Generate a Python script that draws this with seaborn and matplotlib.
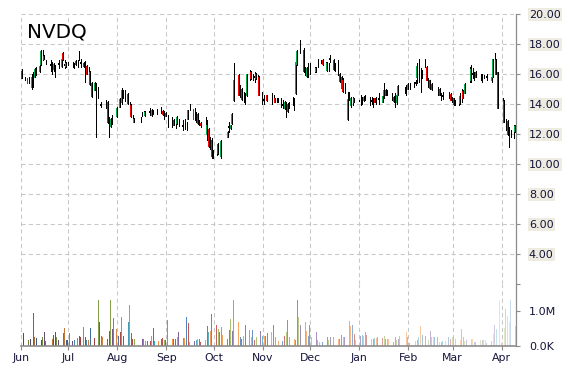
import numpy as np
import pandas as pd
import matplotlib
matplotlib.use("Agg")
import matplotlib.pyplot as plt
import matplotlib.dates as mdates
from matplotlib.colors import to_rgb
import seaborn as sns

sns.set_theme(style="white")
plt.rcParams["font.family"] = ["DejaVu Sans"]

title = "NVDQ"

candle_dates = [
    "6/1", "6/3", "6/5", "6/7", "6/8", "6/9", "6/10", "6/12", "6/13", "6/14",
    "6/15", "6/16", "6/19", "6/20", "6/21", "6/22", "6/24", "6/26", "6/27", "6/28",
    "6/29", "6/30", "7/3", "7/4", "7/5", "7/6", "7/7", "7/8", "7/10", "7/11",
    "7/12", "7/13", "7/14", "7/15", "7/17", "7/18", "7/19", "7/21", "7/24", "7/25",
    "7/26", "7/27", "7/28", "7/31", "8/2", "8/3", "8/4", "8/5", "8/7", "8/8",
    "8/9", "8/10", "8/11", "8/15", "8/16", "8/17", "8/18", "8/21", "8/22", "8/23",
    "8/25", "8/28", "8/29", "8/30", "8/31", "9/1", "9/4", "9/5", "9/6", "9/7",
    "9/8", "9/11", "9/12", "9/13", "9/14", "9/15", "9/18", "9/19", "9/20", "9/21",
    "9/22", "9/25", "9/26", "9/27", "9/28", "9/29", "9/30", "10/2", "10/3", "10/5",
    "10/9", "10/10", "10/11", "10/12", "10/13", "10/16", "10/17", "10/18", "10/19", "10/20",
    "10/21", "10/23", "10/24", "10/25", "10/26", "10/27", "10/28", "10/29", "10/31", "11/1",
    "11/3", "11/6", "11/7", "11/8", "11/9", "11/10", "11/12", "11/13", "11/14", "11/15",
    "11/16", "11/17", "11/19", "11/20", "11/21", "11/22", "11/24", "11/26", "11/27", "11/28",
    "11/29", "11/30", "12/3", "12/4", "12/5", "12/7", "12/8", "12/10", "12/11", "12/12",
    "12/13", "12/15", "12/16", "12/18", "12/19", "12/20", "12/21", "12/22", "12/24", "12/25",
    "12/26", "12/27", "12/28", "1/1", "1/2", "1/3", "1/4", "1/7", "1/8", "1/9",
    "1/10", "1/11", "1/13", "1/15", "1/16", "1/17", "1/18", "1/21", "1/22", "1/23",
    "1/24", "1/25", "1/29", "1/30", "1/31", "2/1", "2/4", "2/5", "2/6", "2/7",
    "2/8", "2/9", "2/11", "2/12", "2/13", "2/14", "2/15", "2/19", "2/20", "2/21",
    "2/22", "2/26", "2/27", "2/28", "3/1", "3/2", "3/4", "3/5", "3/6", "3/7",
    "3/8", "3/11", "3/12", "3/13", "3/14", "3/15", "3/18", "3/19", "3/20", "3/22",
    "3/25", "3/26", "3/27", "3/28", "3/29", "4/1", "4/2", "4/3", "4/4", "4/5",
    "4/6", "4/8", "4/9",
]

opens = [
    16.2, 15.7, 15.7, 15.1, 15.6, 15.8, 16.2, 16.2, 16.6, 17.4,
    17.2, 16.8, 16.6, 16.45, 16.3, 16.25, 16.65, 16.5, 17.4, 16.6,
    16.5, 16.7, 16.6, 16.55, 16.85, 16.7, 17.1, 16.75, 16.7, 16.4,
    16.5, 16.1, 16.1, 15.4, 14.9, 14.9, 14.7, 13.95, 13.95, 14.1,
    12.6, 12.5, 12.95, 13.2, 13.8, 14.1, 14.6, 14.55, 14.65, 13.9,
    13.9, 13.0, 12.8, 12.95, 13.3, 13.38, 13.25, 13.45, 13.25, 13.45,
    13.5, 13.55, 13.5, 13.35, 13.4, 12.9, 12.8, 12.9, 12.7, 12.7,
    12.8, 12.55, 12.6, 12.5, 13.0, 13.7, 13.65, 13.1, 13.3, 12.75,
    12.7, 12.6, 12.0, 12.3, 11.4, 11.6, 10.6, 10.85, 11.3, 10.5,
    11.8, 12.45, 12.35, 12.7, 14.25, 15.9, 14.9, 15.0, 14.45, 14.3,
    14.6, 15.9, 16.1, 15.8, 15.8, 16.0, 15.8, 15.8, 14.4, 14.25,
    14.55, 14.3, 14.3, 14.35, 14.25, 14.2, 14.1, 13.95, 13.7, 13.6,
    14.0, 13.8, 14.2, 14.0, 14.7, 16.6, 17.7, 17.6, 16.2, 15.85,
    16.2, 16.3, 16.3, 16.15, 16.7, 16.8, 16.9, 16.5, 16.25, 16.45,
    17.0, 16.9, 16.4, 16.4, 16.0, 15.8, 15.6, 15.0, 12.95, 14.5,
    13.9, 14.2, 14.35, 14.2, 14.2, 14.25, 14.4, 14.2, 14.2, 14.1,
    14.35, 14.2, 14.35, 14.1, 14.6, 14.9, 14.7, 14.45, 14.45, 14.2,
    14.1, 14.6, 14.9, 14.9, 15.0, 15.15, 15.3, 15.4, 15.8, 16.3,
    15.6, 15.9, 16.7, 16.45, 15.4, 15.55, 15.3, 14.85, 15.0, 14.45,
    14.55, 14.55, 14.65, 14.3, 14.35, 14.05, 14.1, 14.05, 14.55, 14.85,
    14.7, 15.9, 15.6, 16.0, 15.8, 16.1, 15.8, 15.7, 15.8, 15.8,
    15.6, 15.8, 17.0, 16.9, 16.1, 13.9, 14.2, 12.6, 12.85, 12.0,
    12.0, 12.1, 12.15,
]

highs = [
    16.3, 15.8, 15.75, 16.0, 16.1, 16.4, 16.45, 16.6, 17.6, 17.6,
    17.25, 16.9, 16.9, 16.8, 16.7, 16.55, 16.9, 17.1, 17.45, 16.9,
    16.75, 16.8, 16.8, 16.7, 16.9, 16.9, 17.5, 17.0, 16.8, 16.85,
    16.55, 16.45, 16.15, 15.45, 15.45, 15.35, 15.1, 14.12, 14.25, 14.15,
    13.1, 13.05, 13.25, 13.8, 14.35, 15.05, 14.9, 14.9, 14.7, 14.12,
    13.95, 13.23, 13.05, 13.12, 13.45, 13.52, 13.5, 13.68, 13.65, 13.6,
    13.65, 13.8, 13.55, 13.5, 13.45, 13.23, 13.12, 12.95, 13.0, 13.15,
    13.0, 12.9, 13.0, 12.8, 13.6, 13.95, 13.7, 13.45, 13.35, 12.9,
    12.8, 13.12, 12.9, 12.35, 11.8, 11.7, 10.9, 11.12, 11.35, 11.6,
    12.15, 12.8, 12.6, 13.4, 16.7, 15.95, 15.23, 15.05, 14.8, 14.68,
    16.0, 16.25, 16.15, 16.0, 16.12, 16.05, 15.9, 15.85, 14.8, 14.57,
    14.6, 14.68, 14.55, 14.4, 14.4, 14.35, 14.35, 14.23, 14.15, 14.12,
    14.05, 14.1, 14.45, 14.35, 16.9, 17.6, 18.25, 17.7, 16.45, 16.45,
    16.68, 16.68, 16.45, 16.45, 17.0, 16.9, 16.95, 16.8, 16.75, 16.7,
    17.25, 16.95, 16.7, 16.9, 16.05, 15.85, 15.7, 15.35, 14.8, 14.8,
    14.45, 14.45, 14.4, 14.57, 14.45, 14.5, 14.57, 14.45, 14.45, 14.35,
    14.4, 14.45, 14.68, 14.9, 15.35, 14.95, 14.9, 14.68, 14.5, 14.68,
    14.65, 15.25, 15.12, 15.23, 15.35, 15.35, 15.45, 15.57, 16.7, 16.95,
    16.35, 16.23, 17.0, 16.5, 15.68, 15.6, 15.35, 15.12, 15.05, 14.68,
    14.8, 14.79, 14.7, 14.45, 14.4, 14.23, 14.35, 14.68, 15.0, 14.9,
    15.35, 16.45, 16.57, 16.35, 16.12, 16.15, 16.0, 16.0, 15.9, 16.0,
    15.9, 17.0, 17.35, 16.95, 16.12, 14.35, 14.25, 13.0, 12.9, 12.45,
    12.23, 12.57, 12.57,
]

lows = [
    15.7, 15.55, 15.35, 15.0, 15.1, 15.8, 15.9, 16.1, 16.55, 16.9,
    16.95, 16.65, 16.2, 16.0, 16.2, 15.8, 16.35, 16.45, 16.9, 16.35,
    16.45, 16.55, 16.45, 16.35, 16.55, 16.45, 16.9, 16.45, 16.45, 15.45,
    15.95, 15.8, 15.25, 14.45, 14.9, 11.8, 14.35, 13.8, 13.7, 12.7,
    11.8, 12.45, 12.65, 13.1, 13.8, 14.0, 14.35, 14.2, 14.0, 13.68,
    13.1, 12.78, 12.75, 12.78, 13.17, 13.23, 13.2, 13.23, 13.2, 13.3,
    13.3, 13.35, 13.25, 12.95, 13.15, 12.45, 12.45, 12.55, 12.35, 12.65,
    12.5, 12.23, 12.3, 12.23, 12.95, 13.55, 12.9, 12.78, 12.65, 12.55,
    12.45, 12.0, 11.55, 11.1, 11.0, 10.35, 10.35, 10.55, 10.65, 10.4,
    11.75, 12.1, 12.3, 12.65, 14.2, 14.55, 14.45, 14.23, 14.12, 14.0,
    14.5, 15.55, 15.65, 15.55, 15.45, 15.65, 15.7, 14.55, 14.0, 14.0,
    14.2, 14.0, 14.1, 14.1, 14.1, 14.1, 13.78, 13.68, 13.65, 13.1,
    13.45, 13.68, 13.9, 13.55, 14.65, 16.55, 17.35, 16.1, 15.9, 15.8,
    15.8, 16.0, 16.12, 16.1, 16.45, 16.68, 16.55, 16.23, 16.2, 16.15,
    16.8, 16.25, 16.15, 15.9, 15.45, 15.0, 14.8, 14.68, 12.9, 14.23,
    13.8, 13.9, 14.1, 13.9, 14.0, 14.2, 14.23, 13.9, 14.0, 13.78,
    14.1, 14.0, 14.0, 14.1, 14.35, 14.55, 14.57, 14.23, 14.12, 13.79,
    14.0, 14.55, 14.68, 14.57, 14.95, 14.95, 15.12, 15.23, 15.35, 15.45,
    14.8, 15.68, 16.45, 15.57, 15.12, 15.0, 14.9, 14.57, 14.55, 14.23,
    14.3, 14.35, 14.23, 14.12, 13.9, 13.9, 13.9, 14.0, 14.12, 14.35,
    14.68, 15.45, 15.45, 15.68, 15.57, 15.79, 15.57, 15.45, 15.68, 15.57,
    15.45, 15.75, 16.68, 16.0, 13.68, 13.23, 12.78, 12.23, 11.9, 11.12,
    11.79, 11.68, 12.1,
]

closes = [
    15.7, 15.68, 15.4, 15.8, 15.58, 16.3, 16.22, 16.5, 17.5, 17.38,
    17.0, 16.78, 16.58, 16.42, 16.65, 16.22, 16.68, 17.0, 16.95, 16.58,
    16.7, 16.68, 16.62, 16.52, 16.6, 16.68, 17.12, 16.72, 16.5, 16.38,
    16.0, 16.08, 15.3, 14.5, 15.4, 14.88, 14.68, 13.93, 13.97, 12.8,
    12.58, 13.0, 12.97, 13.7, 14.3, 14.9, 14.62, 14.57, 14.05, 13.88,
    13.15, 12.98, 13.0, 12.97, 13.32, 13.4, 13.45, 13.47, 13.6, 13.47,
    13.52, 13.57, 13.3, 13.33, 13.2, 12.88, 12.78, 12.6, 12.68, 13.1,
    12.78, 12.53, 12.58, 12.48, 13.55, 13.72, 12.95, 13.08, 12.7, 12.73,
    12.6, 12.58, 12.6, 11.2, 11.38, 10.5, 10.58, 10.83, 10.7, 11.5,
    12.1, 12.47, 12.55, 13.3, 15.55, 14.6, 14.88, 14.3, 14.43, 14.28,
    15.95, 15.92, 15.7, 15.78, 15.82, 15.7, 15.78, 14.6, 14.38, 14.27,
    14.25, 14.32, 14.32, 14.12, 14.23, 14.22, 14.08, 13.93, 14.1, 13.58,
    13.5, 13.82, 14.18, 13.98, 16.8, 17.5, 17.72, 16.15, 16.18, 16.4,
    16.22, 16.32, 16.28, 16.4, 16.72, 16.78, 16.6, 16.48, 16.7, 16.43,
    17.02, 16.3, 16.38, 16.38, 15.5, 15.05, 14.85, 14.98, 14.3, 14.48,
    14.4, 14.18, 14.12, 14.22, 14.22, 14.45, 14.38, 14.18, 14.22, 14.08,
    14.12, 14.22, 14.33, 14.5, 14.9, 14.6, 14.72, 14.43, 14.15, 14.22,
    14.6, 15.2, 14.88, 14.92, 15.3, 15.17, 15.28, 15.42, 16.5, 16.28,
    15.58, 15.88, 16.72, 15.6, 15.38, 15.05, 14.95, 14.83, 14.6, 14.43,
    14.53, 14.57, 14.25, 14.28, 13.95, 14.03, 14.12, 14.5, 14.57, 14.4,
    15.3, 15.92, 16.3, 16.02, 15.82, 15.8, 15.78, 15.72, 15.78, 15.82,
    15.75, 17.0, 16.98, 16.0, 13.7, 13.88, 12.8, 12.58, 12.0, 11.98,
    11.98, 12.08, 12.5,
]

volume_dates = [
    "6/2", "6/5", "6/6", "6/8", "6/9", "6/10", "6/13", "6/14", "6/15", "6/16",
    "6/20", "6/21", "6/22", "6/23", "6/24", "6/27", "6/28", "6/29", "6/30", "7/1",
    "7/3", "7/4", "7/6", "7/7", "7/8", "7/10", "7/11", "7/12", "7/13", "7/14",
    "7/17", "7/19", "7/20", "7/21", "7/22", "7/25", "7/26", "7/27", "7/28", "7/29",
    "7/31", "8/1", "8/2", "8/3", "8/4", "8/7", "8/8", "8/9", "8/10", "8/11",
    "8/16", "8/17", "8/18", "8/19", "8/21", "8/22", "8/23", "8/24", "8/26", "8/28",
    "8/29", "8/30", "8/31", "9/1", "9/4", "9/5", "9/6", "9/7", "9/8", "9/11",
    "9/12", "9/13", "9/14", "9/15", "9/18", "9/19", "9/20", "9/21", "9/22", "9/25",
    "9/26", "9/27", "9/28", "9/29", "10/2", "10/3", "10/4", "10/5", "10/6", "10/9",
    "10/10", "10/11", "10/12", "10/13", "10/16", "10/17", "10/18", "10/19", "10/20", "10/23",
    "10/24", "10/25", "10/26", "10/27", "10/30", "10/31", "11/1", "11/2", "11/3", "11/6",
    "11/7", "11/8", "11/10", "11/13", "11/14", "11/15", "11/16", "11/17", "11/20", "11/21",
    "11/22", "11/23", "11/24", "11/27", "11/28", "11/29", "11/30", "12/1", "12/4", "12/5",
    "12/6", "12/8", "12/11", "12/12", "12/13", "12/15", "12/18", "12/19", "12/20", "12/21",
    "12/22", "12/25", "12/26", "12/27", "12/28", "12/29", "1/1", "1/2", "1/3", "1/4",
    "1/5", "1/8", "1/9", "1/10", "1/11", "1/12", "1/15", "1/16", "1/17", "1/18",
    "1/19", "1/22", "1/23", "1/24", "1/25", "1/26", "1/30", "1/31", "2/1", "2/5",
    "2/6", "2/7", "2/8", "2/9", "2/11", "2/13", "2/14", "2/15", "2/16", "2/17",
    "2/19", "2/20", "2/21", "2/22", "2/24", "2/26", "2/27", "2/28", "3/1", "3/2",
    "3/5", "3/6", "3/7", "3/8", "3/9", "3/12", "3/13", "3/14", "3/15", "3/18",
    "3/19", "3/20", "3/21", "3/22", "3/25", "3/26", "3/27", "3/28", "3/30", "3/31",
    "4/1", "4/2", "4/3", "4/4", "4/5", "4/6", "4/9",
]

volumes_m = [
    0.36, 0.17, 0.20, 0.95, 0.26, 0.22, 0.15, 0.25, 0.39, 0.13,
    0.18, 0.32, 0.38, 0.26, 0.17, 0.36, 0.51, 0.15, 0.15, 0.36,
    0.13, 0.17, 0.22, 0.29, 0.25, 0.54, 0.25, 0.15, 0.17, 0.51,
    0.22, 1.32, 0.69, 0.29, 0.26, 0.18, 0.42, 1.32, 0.47, 0.80,
    0.47, 0.27, 0.38, 0.83, 0.29, 0.69, 1.19, 0.36, 0.18, 0.18,
    0.18, 0.18, 0.12, 0.12, 0.12, 0.29, 0.51, 0.12, 0.12, 0.18,
    0.22, 0.15, 0.15, 0.74, 0.18, 0.18, 0.18, 0.25, 0.38, 0.22,
    0.21, 0.83, 0.66, 0.10, 0.13, 0.15, 0.18, 0.18, 0.10, 0.15,
    0.57, 0.39, 0.42, 0.91, 0.60, 0.47, 0.39, 0.54, 0.32, 0.18,
    0.44, 0.77, 0.42, 1.32, 0.69, 0.26, 0.18, 0.29, 0.59, 0.44,
    0.25, 0.44, 0.15, 0.25, 0.41, 0.29, 0.29, 0.29, 0.36, 0.39,
    0.59, 0.25, 0.13, 0.13, 0.29, 0.39, 0.74, 0.25, 0.18, 0.15,
    1.32, 0.83, 0.59, 0.68, 0.42, 0.29, 0.59, 0.25, 0.38, 0.15,
    0.10, 0.10, 0.26, 0.15, 0.25, 0.26, 0.18, 0.18, 0.32, 0.25,
    0.25, 0.71, 0.56, 0.59, 0.33, 0.17, 0.27, 0.32, 0.29, 0.40,
    0.32, 0.18, 0.18, 0.22, 0.22, 0.25, 0.22, 0.29, 0.18, 0.20,
    0.20, 0.10, 0.25, 0.15, 0.20, 0.29, 0.38, 0.26, 0.07, 0.13,
    0.15, 0.26, 0.56, 0.32, 0.29, 0.15, 0.41, 0.24, 0.24, 0.24,
    0.24, 0.10, 0.10, 0.12, 0.12, 0.26, 0.18, 0.26, 0.26, 0.18,
    0.15, 0.47, 0.26, 0.12, 0.15, 0.20, 0.20, 0.09, 0.09, 0.15,
    0.15, 0.15, 0.15, 0.07, 0.13, 0.33, 0.59, 0.47, 1.32, 0.07,
    0.07, 0.52, 1.08, 0.85, 0.69, 1.32, 0.56,
]

price_ticks = [2, 4, 6, 8, 10, 12, 14, 16, 18, 20]
volume_ticks = [0, 1_000_000]
volume_tick_labels = ["0.0K", "1.0M"]
x_start, x_end = "2022-06-01 00:00", "2023-04-09 22:00"


def to_date(s):
    m, d = (int(v) for v in s.split("/"))
    return pd.Timestamp(2022 if m >= 6 else 2023, m, d)


cdf = pd.DataFrame({
    "date": [to_date(s) for s in candle_dates],
    "open": opens, "high": highs, "low": lows, "close": closes,
})
vdf = pd.DataFrame({
    "date": [to_date(s) for s in volume_dates],
    "volume": np.array(volumes_m) * 1e6,
})

GREEN, RED = "#00B050", "#FF0000"
GRID = "#C8C8C8"
SPINE = "#8C8C8C"
LABEL = "#14143A"
office = ["#4F81BD", "#C0504D", "#9BBB59", "#8064A2", "#4BACC6", "#F79646"]
MARK_LW = 0.55

fig = plt.figure(figsize=(5.7, 3.7), dpi=100)
L, W = 21 / 570, (515.7 - 21) / 570
axp = fig.add_axes([L, 1 - 283.5 / 370, W, (283.5 - 13.5) / 370])
axv = fig.add_axes([L, 1 - 345.5 / 370, W, (345.5 - 283.5) / 370], sharex=axp)

grid_kw = dict(color=GRID, linestyle=(0, (4, 3)), linewidth=0.75)
for ax in (axp, axv):
    ax.set_facecolor("white")
    ax.set_axisbelow(True)
    for s in ("top", "left"):
        ax.spines[s].set_visible(False)
    ax.spines["right"].set_color(SPINE)
    ax.spines["right"].set_linewidth(0.9)
    ax.yaxis.tick_right()
    ax.tick_params(axis="y", which="both", right=True, left=False, direction="out",
                   length=3, width=0.8, color=SPINE, pad=6.5, labelsize=8,
                   labelcolor=LABEL)
axp.spines["bottom"].set_visible(False)
axv.spines["bottom"].set_color(SPINE)
axv.spines["bottom"].set_linewidth(1.2)

# price candles
xn = mdates.date2num(cdf["date"])
o, c = cdf["open"].to_numpy(), cdf["close"].to_numpy()
body_col = np.where(np.abs(c - o) < 0.05, "black", np.where(c > o, GREEN, RED))
axp.vlines(xn + 0.75, cdf["low"], cdf["high"], colors="black", linewidth=MARK_LW,
           antialiased=False)
axp.vlines(xn + 0.1, np.minimum(o, c), np.maximum(o, c), colors=body_col,
           linewidth=MARK_LW, antialiased=False)

axp.set_ylim(2, 20)
axp.set_yticks(price_ticks)
axp.set_yticklabels(["" if t == 2 else f"{t:.2f}" for t in price_ticks])
for lab in axp.get_yticklabels():
    lab.set_bbox(dict(boxstyle="square,pad=0.12", fc="#EEECE1", ec="none"))
axp.grid(True, axis="both", **grid_kw)
axp.tick_params(axis="x", bottom=False, labelbottom=False)

# volume bars
vx = mdates.date2num(vdf["date"])
frac = (vx - vx.min()) / (vx.max() - vx.min())
vcols = []
for i, f in enumerate(frac):
    base = np.array(to_rgb(office[(i + 1) % 6]))
    t = -0.3 + 1.0 * f
    col = base * (1 + t) if t < 0 else base + (1 - base) * t
    vcols.append(tuple(np.clip(col, 0, 1)))
axv.vlines(vx + 0.4, 0, vdf["volume"], colors=vcols, linewidth=MARK_LW,
           antialiased=False)
axv.set_ylim(0, 1.81e6)
axv.set_yticks(volume_ticks)
axv.set_yticklabels(volume_tick_labels)
axv.grid(True, axis="x", **grid_kw)
axv.grid(False, axis="y")

axv.set_xlim(mdates.date2num(pd.Timestamp(x_start)), mdates.date2num(pd.Timestamp(x_end)))
axv.xaxis.set_major_locator(mdates.MonthLocator())
axv.xaxis.set_major_formatter(mdates.DateFormatter("%b"))
axv.tick_params(axis="x", bottom=True, direction="out", length=3, width=0.8,
                color=SPINE, labelsize=7.8, pad=2.5, labelcolor=LABEL)

fig.text(0.048, 1 - 37.7 / 370, title, fontsize=14.3, color="black",
         ha="left", va="baseline")

fig.savefig("out.png", dpi=100, facecolor="white")
